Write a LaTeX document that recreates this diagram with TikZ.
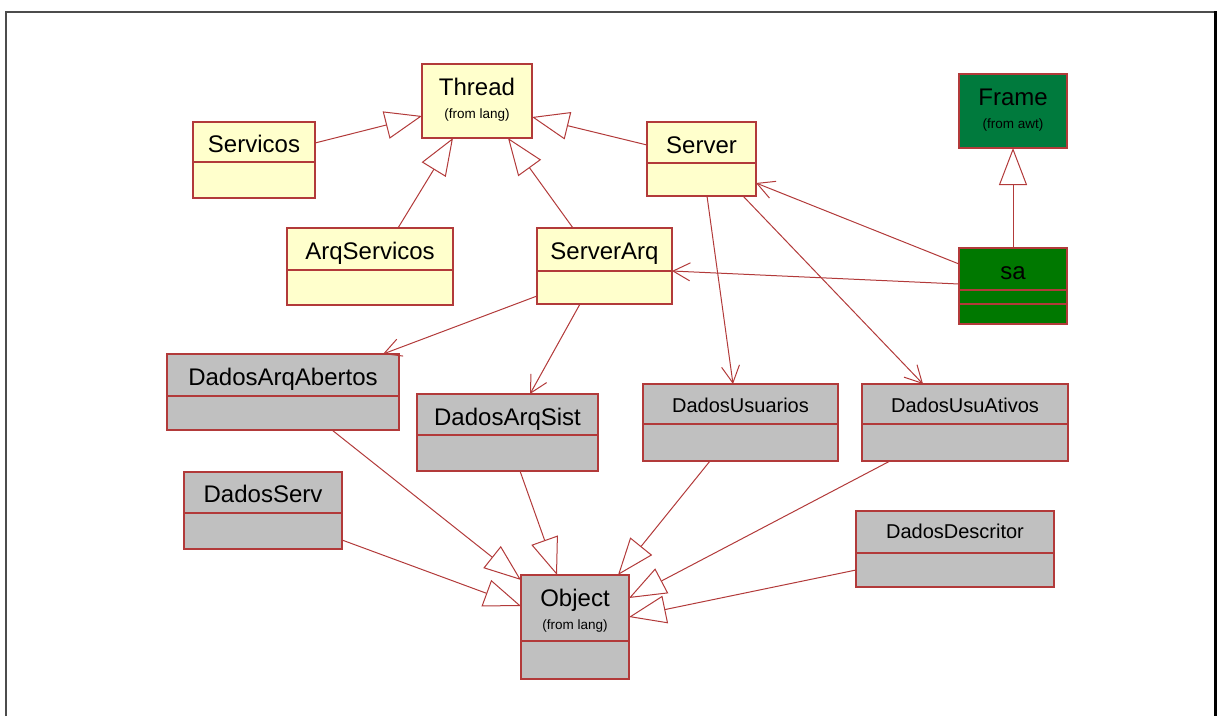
\documentclass[tikz,border=0pt]{standalone}
\usepackage{fontspec}
\setmainfont{Liberation Sans}
\usetikzlibrary{arrows.meta,calc}

\definecolor{umlline}{RGB}{178,58,58}
\definecolor{umlyellow}{RGB}{255,255,204}
\definecolor{umlgray}{RGB}{192,192,192}
\definecolor{framegreen}{RGB}{0,122,61}
\definecolor{sagreen}{RGB}{0,120,0}

\tikzset{
  classbox/.style={draw=umlline, line width=1.6pt, inner sep=0pt, outer sep=0pt, anchor=north west},
  cname/.style={font=\fontsize{24}{26}\selectfont, inner sep=0pt, anchor=base},
  cnamesmall/.style={font=\fontsize{20}{22}\selectfont, inner sep=0pt, anchor=base},
  cfrom/.style={font=\fontsize{13.5}{15}\selectfont, inner sep=0pt, anchor=base},
  divider/.style={draw=umlline, line width=1.6pt},
  generalize/.style={draw=umlline, line width=1pt, -{Triangle[length=37pt,width=28pt,fill=white]}},
  navigate/.style={draw=umlline, line width=1pt, -{Straight Barb[length=17pt,width=18pt]}},
}

% horizontal compartment line, #2 pt below the top of box #1
\newcommand\compartment[2]{\draw[divider] ([yshift=-#2pt]#1.north west) -- ([yshift=-#2pt]#1.north east);}

\begin{document}
\begin{tikzpicture}[x=1pt, y=-1pt]
\useasboundingbox (0,0) rectangle (1217,716);

% page frame
\draw[line width=2pt, draw=black!70] (6,716) -- (6,12) -- (1215,12);
\draw[line width=3pt, draw=black] (1215.5,11) -- (1215.5,716);

% ---- classes ----
\node[classbox, fill=umlyellow, minimum width=110pt, minimum height=74pt] (thread) at (422,64) {};
\node[cname] (thread-t) at ([yshift=-31pt]thread.north) {Thread};
\node[cfrom] (thread-f) at ([yshift=-54pt]thread.north) {(from lang)};

\node[classbox, fill=framegreen, minimum width=108pt, minimum height=74pt] (frame) at (959,74) {};
\node[cname] (frame-t) at ([yshift=-31pt]frame.north) {Frame};
\node[cfrom] (frame-f) at ([yshift=-54pt]frame.north) {(from awt)};

\node[classbox, fill=umlgray, minimum width=108pt, minimum height=104pt] (object) at (521,575) {};
\node[cname] (object-t) at ([yshift=-31pt]object.north) {Object};
\node[cfrom] (object-f) at ([yshift=-54pt]object.north) {(from lang)};
\compartment{object}{66}

\node[classbox, fill=umlyellow, minimum width=122pt, minimum height=76pt] (servicos) at (193,122) {};
\node[cname] (servicos-t) at ([yshift=-30pt]servicos.north) {Servicos};
\compartment{servicos}{40}

\node[classbox, fill=umlyellow, minimum width=109pt, minimum height=74pt] (server) at (647,122) {};
\node[cname] (server-t) at ([yshift=-31pt]server.north) {Server};
\compartment{server}{41}

\node[classbox, fill=umlyellow, minimum width=166pt, minimum height=77pt] (arqserv) at (287,228) {};
\node[cname] (arqserv-t) at ([yshift=-31pt]arqserv.north) {ArqServicos};
\compartment{arqserv}{42}

\node[classbox, fill=umlyellow, minimum width=135pt, minimum height=76pt] (serverarq) at (537,228) {};
\node[cname] (serverarq-t) at ([yshift=-31pt]serverarq.north) {ServerArq};
\compartment{serverarq}{43}

\node[classbox, fill=sagreen, minimum width=108pt, minimum height=76pt] (sa) at (959,248) {};
\node[cname] (sa-t) at ([yshift=-31pt]sa.north) {sa};
\compartment{sa}{42}
\compartment{sa}{56}

\node[classbox, fill=umlgray, minimum width=232pt, minimum height=76pt] (dadosarqab) at (167,354) {};
\node[cname] (dadosarqab-t) at ([yshift=-31pt]dadosarqab.north) {DadosArqAbertos};
\compartment{dadosarqab}{42}

\node[classbox, fill=umlgray, minimum width=181pt, minimum height=77pt] (dadosarqsist) at (417,394) {};
\node[cname] (dadosarqsist-t) at ([yshift=-31pt]dadosarqsist.north) {DadosArqSist};
\compartment{dadosarqsist}{41}

\node[classbox, fill=umlgray, minimum width=158pt, minimum height=77pt] (dadosserv) at (184,472) {};
\node[cname] (dadosserv-t) at ([yshift=-30pt]dadosserv.north) {DadosServ};
\compartment{dadosserv}{41}

\node[classbox, fill=umlgray, minimum width=195pt, minimum height=77pt] (dadosusu) at (643,384) {};
\node[cnamesmall] (dadosusu-t) at ([yshift=-28pt]dadosusu.north) {DadosUsuarios};
\compartment{dadosusu}{40}

\node[classbox, fill=umlgray, minimum width=206pt, minimum height=77pt] (dadosusuat) at (862,384) {};
\node[cnamesmall] (dadosusuat-t) at ([yshift=-28pt]dadosusuat.north) {DadosUsuAtivos};
\compartment{dadosusuat}{40}

\node[classbox, fill=umlgray, minimum width=198pt, minimum height=76pt] (dadosdesc) at (856,511) {};
\node[cnamesmall] (dadosdesc-t) at ([yshift=-27pt]dadosdesc.north) {DadosDescritor};
\compartment{dadosdesc}{42}

% ---- generalizations ----
\draw[generalize] ([yshift=-21pt]servicos.north east) -- ([yshift=-52pt]thread.north west);
\draw[generalize] ([xshift=111pt]arqserv.north west) -- ([xshift=31pt]thread.south west);
\draw[generalize] ([xshift=36pt]serverarq.north west) -- ([xshift=86pt]thread.south west);
\draw[generalize] ([yshift=-23pt]server.north west) -- ([yshift=-53pt]thread.north east);
\draw[generalize] (sa.north) -- (frame.south);

\draw[generalize] ([xshift=165pt]dadosarqab.south west) -- ([yshift=-5pt]object.north west);
\draw[generalize] ([xshift=103pt]dadosarqsist.south west) -- ([xshift=36pt]object.north west);
\draw[generalize] ([yshift=-68pt]dadosserv.north east) -- ([yshift=-31pt]object.north west);
\draw[generalize] ([xshift=67pt]dadosusu.south west) -- ([xshift=97pt]object.north west);
\draw[generalize] ([xshift=28pt]dadosusuat.south west) -- ([yshift=-23pt]object.north east);
\draw[generalize] ([yshift=-59pt]dadosdesc.north west) -- ([yshift=-42pt]object.north east);

% ---- navigable associations ----
\draw[navigate] ([yshift=-16pt]sa.north west) -- ([yshift=-61pt]server.north east);
\draw[navigate] ([yshift=-36pt]sa.north west) -- ([yshift=-43pt]serverarq.north east);
\draw[navigate] ([xshift=60pt]server.south west) -- ([xshift=90pt]dadosusu.north west);
\draw[navigate] ([xshift=96pt]server.south west) -- ([xshift=61pt]dadosusuat.north west);
\draw[navigate] ([yshift=-68pt]serverarq.north west) -- ([xshift=216pt]dadosarqab.north west);
\draw[navigate] ([xshift=43pt]serverarq.south west) -- ([xshift=113pt]dadosarqsist.north west);

\end{tikzpicture}
\end{document}
